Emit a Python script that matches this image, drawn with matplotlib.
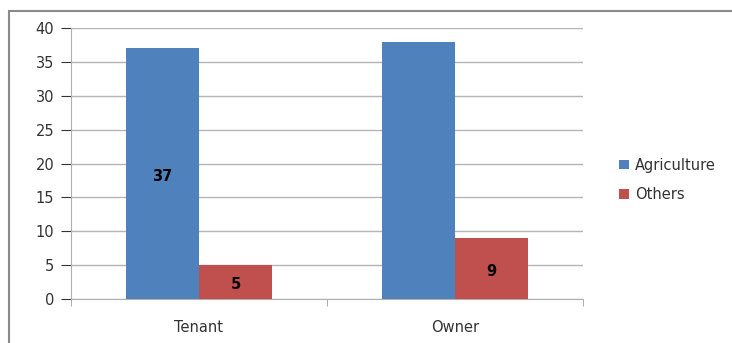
import matplotlib.pyplot as plt
import numpy as np
from matplotlib.patches import Rectangle

categories = ["Tenant", "Owner"]
agriculture = [37, 38]
others = [5, 9]
series_names = ["Agriculture", "Others"]
colors = ["#4F81BD", "#C0504D"]

plt.rcParams["font.family"] = ["DejaVu Sans"]

fig = plt.figure(figsize=(7.32, 3.43), dpi=100)
ax = fig.add_axes([71 / 732, 1 - 299 / 343, (583 - 71) / 732, (299 - 28) / 343])

x = np.arange(len(categories))
width = 0.285
bars_a = ax.bar(x - width / 2, agriculture, width, color=colors[0], label=series_names[0], zorder=3)
bars_o = ax.bar(x + width / 2, others, width, color=colors[1], label=series_names[1], zorder=3)

# labels as shown in the original (owner agriculture has none)
for bar, show in zip(list(bars_a) + list(bars_o), [True, False, True, True]):
    if show:
        ax.text(bar.get_x() + bar.get_width() / 2, bar.get_height() / 2 - 0.4,
                f"{bar.get_height():.0f}", ha="center", va="center",
                fontsize=10.5, fontweight="bold", color="black", zorder=4)

ax.set_xlim(-0.5, 1.5)
ax.set_ylim(0, 40)
ax.set_yticks(range(0, 41, 5))
ax.set_xticks(x)
ax.set_xticklabels(categories)
ax.set_xticks([-0.5, 0.5, 1.5], minor=True)
ax.tick_params(axis="x", which="major", length=0, pad=15)
ax.tick_params(axis="x", which="minor", length=5, color="#a0a0a0", direction="out")
ax.tick_params(axis="y", length=7, color="#a0a0a0", pad=5)
ax.tick_params(labelsize=10.5, colors="#333333")
ax.grid(axis="y", color="#b4b4b4", linewidth=1, zorder=0)

for side in ["top", "right"]:
    ax.spines[side].set_visible(False)
for side in ["left", "bottom"]:
    ax.spines[side].set_color("#b0b0b0")

leg = ax.legend(loc="center left", bbox_to_anchor=(606 / 732, 1 - 180 / 343),
                bbox_transform=fig.transFigure, frameon=False, fontsize=10.5,
                handlelength=0.65, handleheight=0.65, handletextpad=0.45, labelspacing=1.0)
for t in leg.get_texts():
    t.set_color("#333333")

# outer frame of the chart area
fig.patches.append(Rectangle((9 / 732, -0.1), 1.2, 1 - 11 / 343 + 0.1, transform=fig.transFigure,
                             fill=False, edgecolor="#8a8a8a", linewidth=1.5))

fig.savefig("out.png", dpi=100)
